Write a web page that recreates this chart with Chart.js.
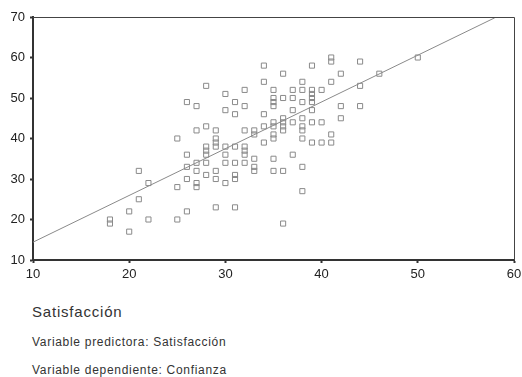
<!DOCTYPE html>
<html>
<head>
<meta charset="utf-8">
<script src="https://cdn.jsdelivr.net/npm/chart.js@4"></script>
<style>
body{margin:0;background:#fff;}
#wrap{position:relative;width:522px;height:377px;font-family:"Liberation Sans",Arial,sans-serif;color:#333;}
#caja{position:absolute;left:0;top:0;width:522px;height:285px;}
.txt{position:absolute;left:32px;white-space:nowrap;line-height:1;}
</style>
</head>
<body>
<div id="wrap">
<div id="caja"><canvas id="myChart"></canvas></div>
<div class="txt" style="top:304px;font-size:15px;letter-spacing:0.8px;">Satisfacción</div>
<div class="txt" style="top:336px;font-size:12px;letter-spacing:0.7px;">Variable predictora: Satisfacción</div>
<div class="txt" style="top:364px;font-size:12px;letter-spacing:0.7px;">Variable dependiente: Confianza</div>
</div>
<script>
// datos (x = Satisfaccion, y = Confianza)
var satisfaccion=[18,18,20,20,21,21,22,22,25,25,25,
26,26,26,26,26,27,27,27,27,27,27,
28,28,28,28,28,28,28,29,29,29,29,29,29,29,
30,30,30,30,30,30,31,31,31,31,31,31,31,
32,32,32,32,32,32,32,33,33,33,33,33,
34,34,34,34,34,35,35,35,35,35,35,35,35,35,35,
36,36,36,36,36,36,36,36,37,37,37,37,37,
38,38,38,38,38,38,38,38,38,39,39,39,39,39,39,39,39,
40,40,40,41,41,41,41,41,42,42,42,44,44,44,46,50];
var confianza=[20,19,22,17,32,25,29,20,40,28,20,
49,36,33,30,22,48,42,34,32,29,28,
53,43,38,37,36,34,31,42,40,39,38,32,30,23,
51,47,38,36,34,29,49,46,38,34,31,30,23,
52,48,42,38,37,36,34,42,41,35,33,32,
58,54,46,43,39,52,50,49,48,44,43,41,40,35,32,
56,50,45,44,43,42,32,19,52,50,47,44,36,
54,52,49,45,43,42,40,33,27,58,52,51,50,49,47,44,39,
52,44,39,60,59,54,41,39,56,48,45,59,53,48,56,60];
// recta de regresion (extremos leidos)
var rectaX=[10,58];
var rectaY=[14.4,69.8];
var ticksX=[10,20,30,40,50,60];
var ticksY=[10,20,30,40,50,60,70];

var puntos=[];
for(var i=0;i<satisfaccion.length;i++){
	puntos.push({x:satisfaccion[i],y:confianza[i]});
}
var recta=[];
for(var j=0;j<rectaX.length;j++){
	recta.push({x:rectaX[j],y:rectaY[j]});
}

var marco={
	id:'marco',
	afterDraw:function(chart){
		var a=chart.chartArea;
		var c=chart.ctx;
		c.save();
		c.strokeStyle='#444';
		c.lineWidth=1;
		c.beginPath();
		c.moveTo(a.left,a.top+0.5);
		c.lineTo(a.right+0.5,a.top+0.5);
		c.lineTo(a.right+0.5,a.bottom);
		c.stroke();
		c.restore();
	}
};

var ctx=document.getElementById("myChart").getContext("2d");
var grafico=new Chart(ctx,{
	type:'scatter',
	data:{
		datasets:[{
			label:'Confianza',
			data:puntos,
			pointStyle:'rect',
			pointRadius:3.6,
			pointBorderWidth:1,
			borderColor:'#8a8a8a',
			backgroundColor:'rgba(255,255,255,0)'
		},{
			label:'Recta',
			data:recta,
			showLine:true,
			pointRadius:0,
			borderWidth:1,
			borderColor:'#8a8a8a'
		}]
	},
	options:{
		responsive:true,
		maintainAspectRatio:false,
		animation:false,
		layout:{padding:{top:17,right:8,left:0,bottom:0}},
		plugins:{legend:{display:false},tooltip:{enabled:false}},
		scales:{
			x:{
				type:'linear',min:10,max:60,
				afterBuildTicks:function(s){s.ticks=ticksX.map(function(v){return {value:v};});},
				afterFit:function(s){s.height=25;s.paddingRight=0;s.paddingLeft=0;},
				grid:{drawOnChartArea:false,tickLength:3,tickWidth:2,color:'#333'},
				border:{display:true,width:2,color:'#333'},
				ticks:{padding:4,color:'#222',maxRotation:0,font:{family:'"Liberation Sans", Arial',size:13}}
			},
			y:{
				type:'linear',min:10,max:70,
				afterBuildTicks:function(s){s.ticks=ticksY.map(function(v){return {value:v};});},
				afterFit:function(s){s.width=33;},
				grid:{drawOnChartArea:false,tickLength:3,tickWidth:2,color:'#333'},
				border:{display:true,width:2,color:'#333'},
				ticks:{padding:5,color:'#222',font:{family:'"Liberation Sans", Arial',size:13}}
			}
		}
	},
	plugins:[marco]
});
</script>
</body>
</html>
